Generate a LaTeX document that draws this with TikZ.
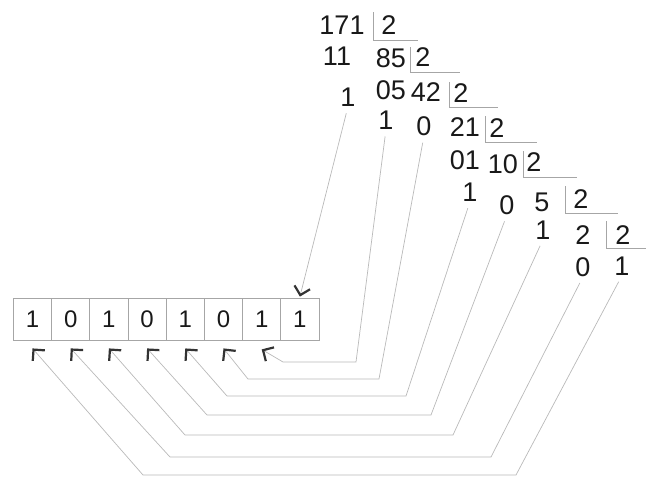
\documentclass[tikz,border=0pt]{standalone}
\usepackage{fontspec}
\setmainfont{Liberation Sans}
\usetikzlibrary{arrows.meta}

\begin{document}
\begin{tikzpicture}[x=1pt,y=-1pt,
  num/.style={inner sep=0pt,text=black!90,font=\fontsize{27}{27}\selectfont},
  bit/.style={draw=gray!70,line width=.8pt,minimum width=38.2pt,minimum height=42pt,inner sep=0pt,text=black!90,font=\fontsize{24}{24}\selectfont},
  bar/.style={gray!70,line width=.8pt},
  link/.style={gray!55,line width=.7pt,shorten <=7pt,-{Straight Barb[color=black!80,line width=2.2pt,length=8pt,width=16pt]}}]
\useasboundingbox (0,0) rectangle (646,477);
% division ladder
\node[num] (q0) at (342,25){171};\node[num] (d1) at (389,25){2};
\node[num] (p1) at (337,56){11};\node[num] (q1) at (391,58){85};\node[num] (d2) at (423,57){2};
\node[num] (r1) at (348,97){1};\node[num] (p2) at (391,90){05};\node[num] (q2) at (426,92){42};\node[num] (d3) at (461,93){2};
\node[num] (r2) at (386,120){1};\node[num] (r3) at (424,126){0};\node[num] (q3) at (465,127){21};\node[num] (d4) at (497,128){2};
\node[num] (p4) at (465,160){01};\node[num] (q4) at (503,164){10};\node[num] (d5) at (534,162){2};
\node[num] (r4) at (470,192){1};\node[num] (r5) at (507,205){0};\node[num] (q5) at (542,202){5};\node[num] (d6) at (581,199){2};
\node[num] (r6) at (543,230){1};\node[num] (q6) at (583,235){2};\node[num] (d7) at (623,235){2};
\node[num] (r7) at (583,267){0};\node[num] (r8) at (622,266){1};
\draw[bar] (373,12) |- (418,40);\draw[bar] (410,47) |- (460,72);\draw[bar] (449,82) |- (498,107);
\draw[bar] (485,116) |- (537,142);\draw[bar] (523,151) |- (577,177);\draw[bar] (565,186) |- (618,213);
\draw[bar] (606,221) |- (646,248);
% result boxes
\foreach \d [count=\i] in {1,0,1,0,1,0,1,1}
  \node[bit] (b\i) at ({32.5+38.2*(\i-1)},319){\d};
% remainders to boxes
\draw[link] (r1.south) -- ([yshift=1pt]b8.north);
\draw[link] (r2.south) -- (356,362) -- (283,362) -- ([yshift=-9pt]b7.south);
\draw[link] (r3.south) -- (379,379) -- (248,379) -- ([yshift=-8pt]b6.south);
\draw[link] (r4.south) -- (406,396) -- (227,396) -- ([yshift=-8pt]b5.south);
\draw[link] (r5.south) -- (431,415) -- (207,415) -- ([yshift=-8pt]b4.south);
\draw[link] (r6.south) -- (453,435) -- (185,435) -- ([yshift=-8pt]b3.south);
\draw[link] (r7.south) -- (491,457) -- (170,457) -- ([yshift=-8pt]b2.south);
\draw[link] (r8.south) -- (516,475) -- (143,475) -- ([yshift=-8pt]b1.south);
\end{tikzpicture}
\end{document}
